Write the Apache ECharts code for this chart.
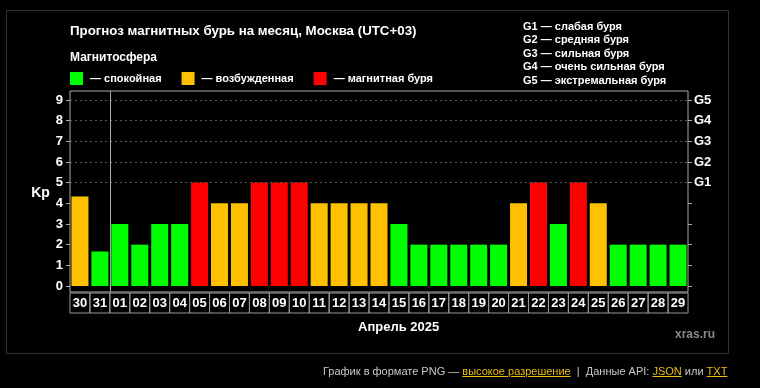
<!DOCTYPE html>
<html>
<head>
<meta charset="utf-8">
<script src="https://cdn.jsdelivr.net/npm/echarts@6/dist/echarts.min.js"></script>
<style>
html,body{margin:0;padding:0;background:#000;}
#chart{width:760px;height:388px;}
#footer{position:absolute;left:323px;top:365px;font:11px 'Liberation Sans',Arial,sans-serif;color:#c8c8c8;white-space:nowrap;}
#footer u{color:#e9bb10;}
</style>
</head>
<body>
<div id="chart"></div>
<div id="footer">График в формате PNG — <u>высокое разрешение</u> &nbsp;|&nbsp; Данные API: <u>JSON</u> или <u>TXT</u></div>
<script>
const categories = ['30','31','01','02','03','04','05','06','07','08','09','10','11','12','13','14','15','16','17','18','19','20','21','22','23','24','25','26','27','28','29'];
const kpValues = [4.33,1.67,3,2,3,3,5,4,4,5,5,5,4,4,4,4,3,2,2,2,2,2,4,5,3,5,4,2,2,2,2];
const levels = ['y','g','g','g','g','g','r','y','y','r','r','r','y','y','y','y','g','g','g','g','g','g','y','r','g','r','y','g','g','g','g'];
const kpTicks = [0,1,2,3,4,5,6,7,8,9];
const gLabels = ['G1','G2','G3','G4','G5'];
const stormLines = [5,6,7,8,9];
const monthStart = 2;
const legendNames = {g:'— спокойная', y:'— возбужденная', r:'— магнитная буря'};
const levelColors = {g:'#00ff00', y:'#ffc000', r:'#ff0000'};
const gLegendText = ['G1 — слабая буря','G2 — средняя буря','G3 — сильная буря','G4 — очень сильная буря','G5 — экстремальная буря'];

const FONT = "'Liberation Sans', Arial, sans-serif";
const chart = echarts.init(document.getElementById('chart'), null, {renderer:'canvas'});

const barSeries = ['g','y','r'].map(k => ({
  name: legendNames[k],
  type: 'bar',
  xAxisIndex: 0, yAxisIndex: 0,
  barWidth: 17,
  barGap: '-100%',
  itemStyle: {color: levelColors[k]},
  z: 3,
  data: kpValues.map((v,i) => levels[i] === k ? v : '-')
}));

const option = {
  backgroundColor: '#000',
  animation: false,
  textStyle: {fontFamily: FONT},
  graphic: [{
    type: 'rect', silent: true,
    shape: {x: 6.5, y: 10.5, width: 722, height: 343},
    style: {fill: 'none', stroke: '#333', lineWidth: 1}
  }],
  title: [
    {text: 'Прогноз магнитных бурь на месяц, Москва (UTC+03)', left: 70, top: 25, padding: 0,
     textStyle: {color: '#fff', fontSize: 13.3, fontWeight: 'bold', fontFamily: FONT}},
    {text: 'Магнитосфера', left: 70, top: 52, padding: 0,
     textStyle: {color: '#fff', fontSize: 12, fontWeight: 'bold', fontFamily: FONT}},
    {text: gLegendText.join('\n'), left: 523, top: 20, padding: 0,
     textStyle: {color: '#fff', fontSize: 11, fontWeight: 'bold', lineHeight: 13.5, fontFamily: FONT}},
    {text: 'Апрель 2025', left: 358, top: 321, padding: 0,
     textStyle: {color: '#fff', fontSize: 13, fontWeight: 'bold', fontFamily: FONT}},
    {text: 'xras.ru', right: 45, top: 329, padding: 0,
     textStyle: {color: '#8a8a8a', fontSize: 12, fontWeight: 'bold', fontFamily: FONT}}
  ],
  legend: {
    left: 70, top: 72, padding: 0,
    itemWidth: 13, itemHeight: 13, itemGap: 20,
    icon: 'rect',
    selectedMode: false,
    data: ['g','y','r'].map(k => legendNames[k]),
    textStyle: {color: '#fff', fontSize: 11, fontWeight: 'bold', fontFamily: FONT, padding: [0,0,0,2]}
  },
  grid: [
    {left: 70, right: 72, top: 91, bottom: 96, show: true, borderColor: '#aaa', borderWidth: 1, backgroundColor: 'transparent'},
    {left: 70, right: 72, top: 100, bottom: 102, show: false}
  ],
  xAxis: [
    {type: 'category', gridIndex: 0, data: categories, boundaryGap: true,
     axisLine: {show: false}, axisTick: {show: false},
     axisLabel: {interval: 0, margin: 1, color: '#fff', fontSize: 13, fontWeight: 'bold', fontFamily: FONT,
       width: 20, height: 20, lineHeight: 20, align: 'center', verticalAlign: 'top',
       borderColor: '#999', borderWidth: 1, padding: 0}},
    {type: 'value', gridIndex: 0, min: 0, max: categories.length, show: false},
    {type: 'value', gridIndex: 1, min: 0, max: 1, show: false}
  ],
  yAxis: [
    {type: 'value', gridIndex: 0, min: -0.29, max: 9.43, show: false, splitLine: {show: false}},
    {type: 'value', gridIndex: 1, position: 'left', min: kpTicks[0], max: kpTicks[kpTicks.length-1], interval: 1,
     axisLine: {show: false}, splitLine: {show: false},
     axisTick: {show: true, length: 4, lineStyle: {color: '#aaa'}},
     axisLabel: {color: '#fff', fontSize: 13, fontWeight: 'bold', margin: 7, fontFamily: FONT},
     name: 'Kp', nameLocation: 'middle', nameRotate: 0, nameGap: 17,
     nameTextStyle: {color: '#fff', fontSize: 14, fontWeight: 'bold', align: 'right', verticalAlign: 'middle', fontFamily: FONT}},
    {type: 'value', gridIndex: 1, position: 'right', min: kpTicks[0], max: kpTicks[kpTicks.length-1], interval: 1,
     axisLine: {show: false}, splitLine: {show: false},
     axisTick: {show: true, length: 4, lineStyle: {color: '#aaa'}},
     axisLabel: {color: '#fff', fontSize: 13, fontWeight: 'bold', margin: 6, fontFamily: FONT,
       formatter: v => v >= stormLines[0] ? gLabels[v - stormLines[0]] : ''}}
  ],
  series: [
    ...barSeries,
    {type: 'line', xAxisIndex: 1, yAxisIndex: 0, data: [], z: 1, silent: true,
     markLine: {silent: true, symbol: ['none','none'], label: {show: false},
       data: [
         ...stormLines.map(v => ({yAxis: v, lineStyle: {color: '#5a5a5a', type: [2, 3], width: 1}})),
         {xAxis: monthStart, lineStyle: {color: '#aaa', type: 'solid', width: 1}}
       ]}},
    {type: 'line', xAxisIndex: 2, yAxisIndex: 1, data: []},
    {type: 'line', xAxisIndex: 2, yAxisIndex: 2, data: []}
  ]
};
chart.setOption(option);
</script>
</body>
</html>
